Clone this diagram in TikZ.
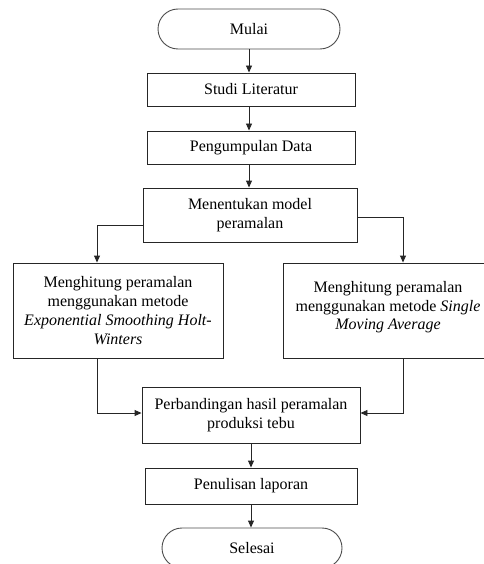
\documentclass[tikz,border=0pt]{standalone}
\usepackage{fontspec}
\setmainfont{Liberation Serif}
\usetikzlibrary{arrows.meta,shapes.misc}
\tikzset{
  ln/.style={line width=0.9pt, draw=black!85},
  arr/.style={ln, -{Triangle[length=7pt,width=6pt]}},
  box/.style={rectangle, ln, inner sep=0pt, align=center, font=\fontsize{16}{18.8}\selectfont},
  term/.style={box, rounded rectangle, draw=black!70},
}
\begin{document}
\begin{tikzpicture}[x=1pt,y=-1pt]
\useasboundingbox (0,0) rectangle (483,564);
\node[term, minimum width=182pt, minimum height=40pt] (mulai) at (249,29) {Mulai};
\node[box, minimum width=208pt, minimum height=33pt] (studi) at (251,89.5) {Studi Literatur};
\node[box, minimum width=208pt, minimum height=33pt] (data) at (251,147.5) {Pengumpulan Data};
\node[box, minimum width=214pt, minimum height=54pt] (model) at (250,215) {Menentukan model\\peramalan};
\node[box, minimum width=210pt, minimum height=95pt] (hw) at (118,310.5) {Menghitung peramalan\\menggunakan metode\\\textit{Exponential Smoothing Holt-}\\\textit{Winters}};
\node[box, minimum width=210pt, minimum height=95pt] (sma) at (388,310.5) {Menghitung peramalan\\menggunakan metode \textit{Single}\\\textit{Moving Average}\\[-9pt]};
\node[box, minimum width=218pt, minimum height=56pt] (banding) at (251,415) {Perbandingan hasil peramalan\\produksi tebu};
\node[box, minimum width=212pt, minimum height=36pt] (tulis) at (251,486) {Penulisan laporan};
\node[term, minimum width=180pt, minimum height=40pt] (selesai) at (252,548) {Selesai};

\draw[arr] (mulai.south) -- (mulai.south |- studi.north);
\draw[arr] ([xshift=-2pt]studi.south) -- ([xshift=-2pt]data.north);
\draw[arr] ([xshift=-2pt]data.south) -- ([xshift=-2pt]data.south |- model.north);
\draw[arr] ([yshift=-10pt]model.west) -| ([xshift=-21pt]hw.north);
\draw[arr] ([yshift=-2pt]model.east) -| ([xshift=15pt]sma.north);
\draw[arr] ([xshift=-21pt]hw.south) |- ([yshift=2pt]banding.west);
\draw[arr] ([xshift=15pt]sma.south) |- ([yshift=2pt]banding.east);
\draw[arr] (banding.south) -- (banding.south |- tulis.north);
\draw[arr] (tulis.south) -- (tulis.south |- selesai.north);
\end{tikzpicture}
\end{document}
